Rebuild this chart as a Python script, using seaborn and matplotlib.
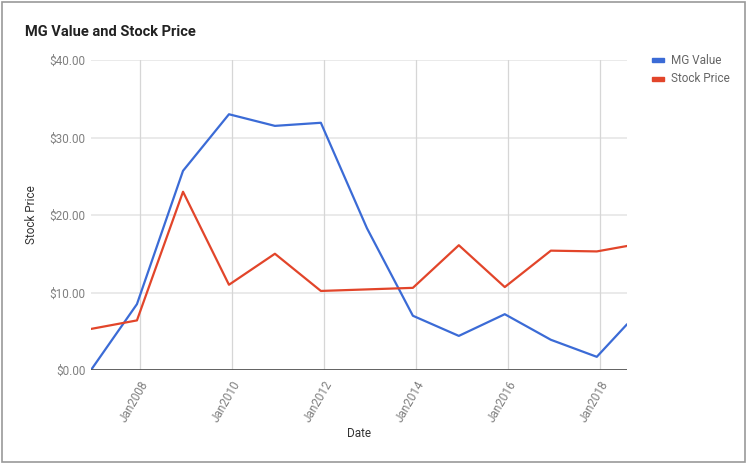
import matplotlib
matplotlib.use('Agg')
import matplotlib.pyplot as plt
from matplotlib.patches import Rectangle
from matplotlib.ticker import FuncFormatter
import pandas as pd
import seaborn as sns

# values
dates = ['2006-12-06', '2007-12-06', '2008-12-06', '2009-12-06', '2010-12-06',
         '2011-12-06', '2012-12-06', '2013-12-06', '2014-12-06', '2015-12-06',
         '2016-12-06', '2017-12-06', '2018-08-03']
mg_value = [0.0, 8.5, 25.7, 33.0, 31.5, 31.9, 18.3, 7.0, 4.4, 7.2, 3.9, 1.7, 5.9]
stock_price = [5.3, 6.4, 23.0, 11.0, 15.0, 10.2, 10.4, 10.6, 16.1, 10.7, 15.4, 15.3, 16.0]
y_ticks = [0, 10, 20, 30, 40]
x_tick_years = [2008, 2010, 2012, 2014, 2016, 2018]

sns.set_style('white')
plt.rcParams['font.family'] = ['Roboto', 'DejaVu Sans']

df = pd.DataFrame({
    'Date': pd.to_datetime(dates * 2),
    'Value': mg_value + stock_price,
    'Series': ['MG Value'] * len(dates) + ['Stock Price'] * len(dates),
})

fig = plt.figure(figsize=(7.52, 4.70), dpi=100)
ax = fig.add_axes([91 / 752, 1 - 370 / 470, (627 - 91) / 752, (370 - 60) / 470])

# y gridlines and vertical date gridlines
for v in y_ticks[1:]:
    ax.axhline(v, color='#e8e8e8', lw=1.3, zorder=0)
tick_dates = pd.to_datetime([f'{y}-01-01' for y in x_tick_years])
for d in tick_dates:
    ax.axvline(d, color='#d6d6d6', lw=0.9, zorder=0)

sns.lineplot(data=df, x='Date', y='Value', hue='Series', ax=ax,
             palette=['#3b6bd6', '#e2452a'], linewidth=1.6, legend=False, zorder=3)

ax.axhline(0, color='#555555', lw=1.3, zorder=4)

ax.set_xlim(df['Date'].min(), df['Date'].max())
ax.set_ylim(0, 40)
ax.set_yticks(y_ticks)
ax.yaxis.set_major_formatter(FuncFormatter(lambda v, p: f'${v:.2f}'))
ax.set_xticks(tick_dates)
ax.set_xticklabels([f'Jan{y}' for y in x_tick_years], rotation=60,
                   ha='right', rotation_mode='anchor')
ax.tick_params(axis='both', length=0, labelsize=8.5, labelcolor='#808080')
ax.tick_params(axis='x', pad=6)
ax.tick_params(axis='y', pad=4)
for s in ax.spines.values():
    s.set_visible(False)

ax.set_xlabel('Date', fontsize=8.5, color='#333333', labelpad=2)
ax.set_ylabel('Stock Price', fontsize=8.5, color='#333333', labelpad=8)

fig.text(25 / 752, 1 - 32 / 470, 'MG Value and Stock Price', fontsize=10.5,
         fontweight='bold', color='#222222', va='center', ha='left')

# legend
for i, (name, col) in enumerate([('MG Value', '#3b6bd6'), ('Stock Price', '#e2452a')]):
    yy = 1 - (60 + 19 * i) / 470
    fig.add_artist(Rectangle((652 / 752, yy - 2 / 470), 12 / 752, 4 / 470,
                             color=col, transform=fig.transFigure))
    fig.text(671 / 752, yy, name, fontsize=8.5, color='#666666', va='center', ha='left')

# outer frame
fig.add_artist(Rectangle((2 / 752, 1 - 462 / 470), 743 / 752, 460 / 470, fill=False,
                         edgecolor='#999999', lw=1.2, transform=fig.transFigure))

fig.savefig('out.png', dpi=100)
